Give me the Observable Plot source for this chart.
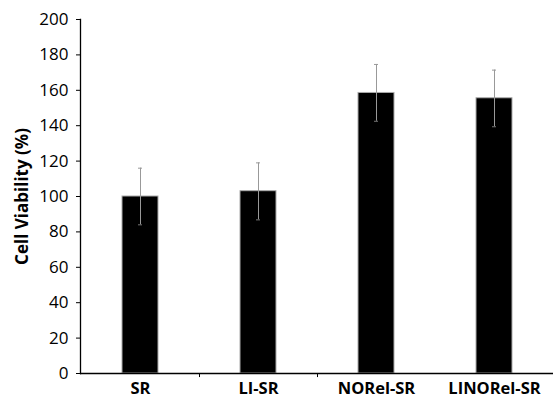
<!DOCTYPE html>
<html><head><meta charset="utf-8">
<script src="https://cdn.jsdelivr.net/npm/d3@7"></script>
<script src="https://cdn.jsdelivr.net/npm/@observablehq/plot@0.6"></script>
<style>
html,body{margin:0;padding:0;background:#fff;}
</style>
</head><body>
<div id="chart"></div>
<script>
const categories = ["SR", "LI-SR", "NORel-SR", "LINORel-SR"];
const viability = [100, 103, 158.5, 155.5];
const errLow = [84, 86.8, 142.5, 139.4];
const errHigh = [116, 119, 174.6, 171.4];
const yTicks = [0, 20, 40, 60, 80, 100, 120, 140, 160, 180, 200];
const boundaryCats = ["SR", "LI-SR"];

const data = categories.map((c, i) => ({cat: c, v: viability[i], lo: errLow[i], hi: errHigh[i]}));
const font = "'Open Sans', sans-serif";

const chart = Plot.plot({
  width: 553,
  height: 397,
  marginTop: 19,
  marginBottom: 24,
  marginLeft: 80,
  marginRight: 0,
  style: {fontFamily: font, background: "#fff"},
  x: {domain: categories, paddingInner: 0.695, paddingOuter: 0.3475, axis: null},
  y: {domain: [0, 200], axis: null},
  marks: [
    Plot.barY(data, {x: "cat", y: "v", fill: "#000", stroke: "#aaa", strokeWidth: 1}),
    Plot.ruleX(data, {x: "cat", y1: "lo", y2: "hi", stroke: "#999", strokeWidth: 1}),
    Plot.tickY(data, {x: "cat", y: "hi", stroke: "#999", strokeWidth: 1, insetLeft: 16, insetRight: 16}),
    Plot.tickY(data, {x: "cat", y: "lo", stroke: "#777", strokeWidth: 1, insetLeft: 16, insetRight: 16}),
    // y axis
    Plot.axisY({ticks: yTicks, tickSize: 4, tickPadding: 8, fontSize: 17, tickFormat: d => d, color: "#000", label: null}),
    Plot.frame({anchor: "left", stroke: "#000", strokeWidth: 1.3}),
    // x axis line
    Plot.ruleY([0], {stroke: "#000", strokeWidth: 1.5}),
    // boundary ticks between categories
    Plot.ruleX(boundaryCats, {x: d => d, dx: 59, y1: 0, y2: -2.3, stroke: "#000", strokeWidth: 1}),
    // x labels
    Plot.text(categories, {x: d => d, y: 0, text: d => d, dy: 15, fontSize: 16.5, fontWeight: "bold", fill: "#000", lineAnchor: "middle"}),
    // y label
    Plot.text(["Cell Viability (%)"], {frameAnchor: "left", dx: -58, rotate: -90, textAnchor: "middle", text: d => d, fontSize: 17, fontWeight: "bold", fill: "#000"})
  ]
});
document.getElementById("chart").appendChild(chart);
</script>
</body></html>
